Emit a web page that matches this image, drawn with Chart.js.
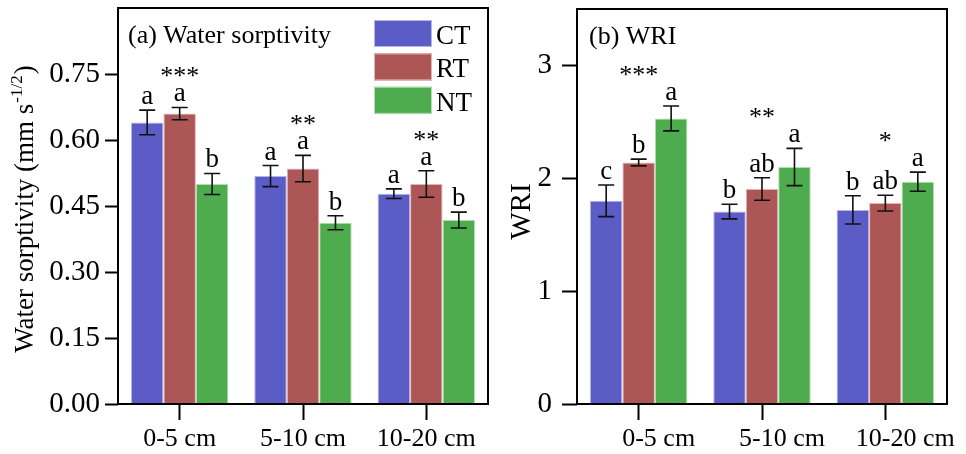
<!DOCTYPE html>
<html>
<head>
<meta charset="utf-8">
<script src="https://cdn.jsdelivr.net/npm/chart.js@4/dist/chart.umd.min.js"></script>
<style>
  html, body { margin: 0; padding: 0; background: #fff; }
  #wrap { position: relative; width: 966px; height: 454px; overflow: hidden; }
  #c1 { position: absolute; left: 0; top: 0; }
  #c2 { position: absolute; left: 490px; top: 0; }
</style>
</head>
<body>
<div id="wrap">
  <canvas id="c1" width="490" height="454"></canvas>
  <canvas id="c2" width="476" height="454"></canvas>
</div>
<script>
// ---- data ----
const categories = ['0-5 cm', '5-10 cm', '10-20 cm'];
const treatments = ['CT', 'RT', 'NT'];

// (a) water sorptivity, mm s^-1/2 (mean and standard error)
const sorpCT = [0.640, 0.518, 0.478];
const sorpRT = [0.660, 0.535, 0.500];
const sorpNT = [0.500, 0.412, 0.418];
const sorpCTErr = [0.028, 0.024, 0.011];
const sorpRTErr = [0.014, 0.030, 0.030];
const sorpNTErr = [0.024, 0.016, 0.018];
const sorpCTLetters = ['a', 'a', 'a'];
const sorpRTLetters = ['a', 'a', 'a'];
const sorpNTLetters = ['b', 'b', 'b'];
const sorpStars = ['***', '**', '**'];
const sorpTicks = [0, 0.15, 0.30, 0.45, 0.60, 0.75];
const sorpTickLabels = ['0.00', '0.15', '0.30', '0.45', '0.60', '0.75'];

// (b) WRI
const wriCT = [1.80, 1.705, 1.72];
const wriRT = [2.14, 1.905, 1.78];
const wriNT = [2.53, 2.10, 1.97];
const wriCTErr = [0.14, 0.065, 0.125];
const wriRTErr = [0.03, 0.10, 0.07];
const wriNTErr = [0.11, 0.165, 0.085];
const wriCTLetters = ['c', 'b', 'b'];
const wriRTLetters = ['b', 'ab', 'ab'];
const wriNTLetters = ['a', 'a', 'a'];
const wriStars = ['***', '**', '*'];
const wriTicks = [0, 1, 2, 3];
const wriTickLabels = ['0', '1', '2', '3'];

// ---- styling ----
const SERIF = '"Liberation Serif", "Times New Roman", "DejaVu Serif", serif';
const fills = ['#5c5cc6', '#ad5656', '#4eab4e'];
const edges = ['#b4b4ea', '#e3b4b4', '#b0e0b0'];

function makeDatasets(values) {
  return values.map((v, i) => ({
    label: treatments[i],
    data: v,
    backgroundColor: fills[i],
    borderColor: edges[i],
    borderWidth: 1,
    borderSkipped: 'bottom',
    barPercentage: 1.0,
    categoryPercentage: 0.79
  }));
}

// error bars, significance letters, stars, frame, titles and legend
function makeDecor(cfg) {
  return {
    id: 'decor',
    afterDatasetsDraw(chart) {
      const ctx = chart.ctx;
      const y = chart.scales.y;
      const x = chart.scales.x;
      ctx.save();
      const groupTop = categories.map(() => Infinity);
      chart.data.datasets.forEach((ds, di) => {
        const meta = chart.getDatasetMeta(di);
        meta.data.forEach((bar, i) => {
          const v = ds.data[i];
          const e = cfg.errors[di][i];
          const yHi = y.getPixelForValue(v + e);
          const yLo = y.getPixelForValue(v - e);
          const cx = bar.x;
          ctx.strokeStyle = '#111';
          ctx.lineWidth = 1.6;
          ctx.beginPath();
          ctx.moveTo(cx, yHi); ctx.lineTo(cx, yLo);
          ctx.moveTo(cx - 8, yHi); ctx.lineTo(cx + 8, yHi);
          ctx.moveTo(cx - 8, yLo); ctx.lineTo(cx + 8, yLo);
          ctx.stroke();
          ctx.fillStyle = '#000';
          ctx.font = '27px ' + SERIF;
          ctx.textAlign = 'center';
          ctx.textBaseline = 'alphabetic';
          ctx.fillText(cfg.letters[di][i], cx, yHi - 6);
          groupTop[i] = Math.min(groupTop[i], yHi);
        });
      });
      ctx.font = '26px ' + SERIF;
      ctx.textAlign = 'center';
      ctx.textBaseline = 'alphabetic';
      cfg.stars.forEach((s, i) => {
        ctx.fillText(s, x.getPixelForValue(i), groupTop[i] - 23);
      });
      ctx.restore();
    },
    afterDraw(chart) {
      const ctx = chart.ctx;
      const a = chart.chartArea;
      ctx.save();
      // frame
      ctx.strokeStyle = '#000';
      ctx.lineWidth = 2;
      ctx.strokeRect(a.left, a.top, a.right - a.left, a.bottom - a.top);
      // panel title
      ctx.fillStyle = '#000';
      ctx.font = '26px ' + SERIF;
      ctx.textAlign = 'left';
      ctx.textBaseline = 'alphabetic';
      ctx.fillText(cfg.title, a.left + cfg.titleDx, a.top + 35);
      // y axis title
      ctx.save();
      ctx.translate(cfg.yTitleX, (a.top + a.bottom) / 2 + cfg.yTitleDy);
      ctx.rotate(-Math.PI / 2);
      const mainFont = cfg.yTitleSize + 'px ' + SERIF;
      const supFont = Math.round(cfg.yTitleSize * 0.62) + 'px ' + SERIF;
      ctx.font = mainFont;
      const w1 = ctx.measureText(cfg.yTitle).width;
      const w3 = cfg.yTitleClose ? ctx.measureText(cfg.yTitleClose).width : 0;
      ctx.font = supFont;
      const w2 = cfg.yTitleSup ? ctx.measureText(cfg.yTitleSup).width + 2 : 0;
      let x0 = -(w1 + w2 + w3) / 2;
      ctx.textAlign = 'left';
      ctx.font = mainFont;
      ctx.fillText(cfg.yTitle, x0, 0);
      if (cfg.yTitleSup) {
        ctx.font = supFont;
        ctx.fillText(cfg.yTitleSup, x0 + w1 + 1, -cfg.yTitleSize * 0.42);
        ctx.font = mainFont;
        ctx.fillText(cfg.yTitleClose, x0 + w1 + w2, 0);
      }
      ctx.restore();
      // legend
      if (cfg.legend) {
        const bx = a.right - 114;
        chart.data.datasets.forEach((ds, i) => {
          const by = a.top + 12 + i * 33.4;
          ctx.fillStyle = ds.backgroundColor;
          ctx.fillRect(bx, by, 58, 27);
          ctx.strokeStyle = ds.borderColor;
          ctx.lineWidth = 1;
          ctx.strokeRect(bx + 0.5, by + 0.5, 57, 26);
          ctx.fillStyle = '#000';
          ctx.font = '27px ' + SERIF;
          ctx.textAlign = 'left';
          ctx.textBaseline = 'alphabetic';
          ctx.fillText(ds.label, bx + 62, by + 24);
        });
      }
      ctx.restore();
    }
  };
}

function makeChart(canvasId, values, opt) {
  return new Chart(document.getElementById(canvasId), {
    type: 'bar',
    data: { labels: categories, datasets: makeDatasets(values) },
    options: {
      responsive: false,
      animation: false,
      devicePixelRatio: 1,
      layout: { padding: opt.padding },
      plugins: { legend: { display: false }, tooltip: { enabled: false } },
      scales: {
        x: {
          offset: true,
          grid: { offset: false, drawOnChartArea: false, drawTicks: true, tickLength: 16, tickWidth: 2, tickColor: '#000' },
          border: { display: false },
          ticks: { color: '#000', font: { family: SERIF, size: 26 }, padding: 4, maxRotation: 0, autoSkip: false, labelOffset: opt.labelOffset },
          afterFit(s) { s.height = 50; s.paddingLeft = 0; s.paddingRight = 0; }
        },
        y: {
          min: 0,
          max: opt.yMax,
          afterBuildTicks(s) { s.ticks = opt.ticks.map(v => ({ value: v })); },
          grid: { drawOnChartArea: false, drawTicks: true, tickLength: opt.tickLen, tickWidth: 2, tickColor: '#000' },
          border: { display: false },
          ticks: { color: '#000', font: { family: SERIF, size: 29 }, padding: opt.tickPad, callback: (v, i) => opt.tickLabels[i] },
          afterFit(s) { s.width = opt.yWidth; s.paddingTop = 0; s.paddingBottom = 0; }
        }
      }
    },
    plugins: [makeDecor(opt.decor)]
  });
}

makeChart('c1', [sorpCT, sorpRT, sorpNT], {
  padding: { top: 8, right: 2, left: 0, bottom: 0 },
  yMax: 0.9, ticks: sorpTicks, tickLabels: sorpTickLabels,
  tickLen: 13, tickPad: 5, yWidth: 118, labelOffset: 0,
  decor: {
    errors: [sorpCTErr, sorpRTErr, sorpNTErr],
    letters: [sorpCTLetters, sorpRTLetters, sorpNTLetters],
    stars: sorpStars,
    title: '(a) Water sorptivity', titleDx: 10,
    yTitle: 'Water sorptivity (mm s', yTitleSup: '-1/2', yTitleClose: ')',
    yTitleX: 33, yTitleDy: 3, yTitleSize: 27,
    legend: true
  }
});

makeChart('c2', [wriCT, wriRT, wriNT], {
  padding: { top: 9, right: 19, left: 0, bottom: 0 },
  yMax: 3.5, ticks: wriTicks, tickLabels: wriTickLabels,
  tickLen: 15, tickPad: 10, yWidth: 87, labelOffset: 20,
  decor: {
    errors: [wriCTErr, wriRTErr, wriNTErr],
    letters: [wriCTLetters, wriRTLetters, wriNTLetters],
    stars: wriStars,
    title: '(b) WRI', titleDx: 12,
    yTitle: 'WRI', yTitleSup: '', yTitleClose: '',
    yTitleX: 40, yTitleDy: 5, yTitleSize: 29,
    legend: false
  }
});
</script>
</body>
</html>
